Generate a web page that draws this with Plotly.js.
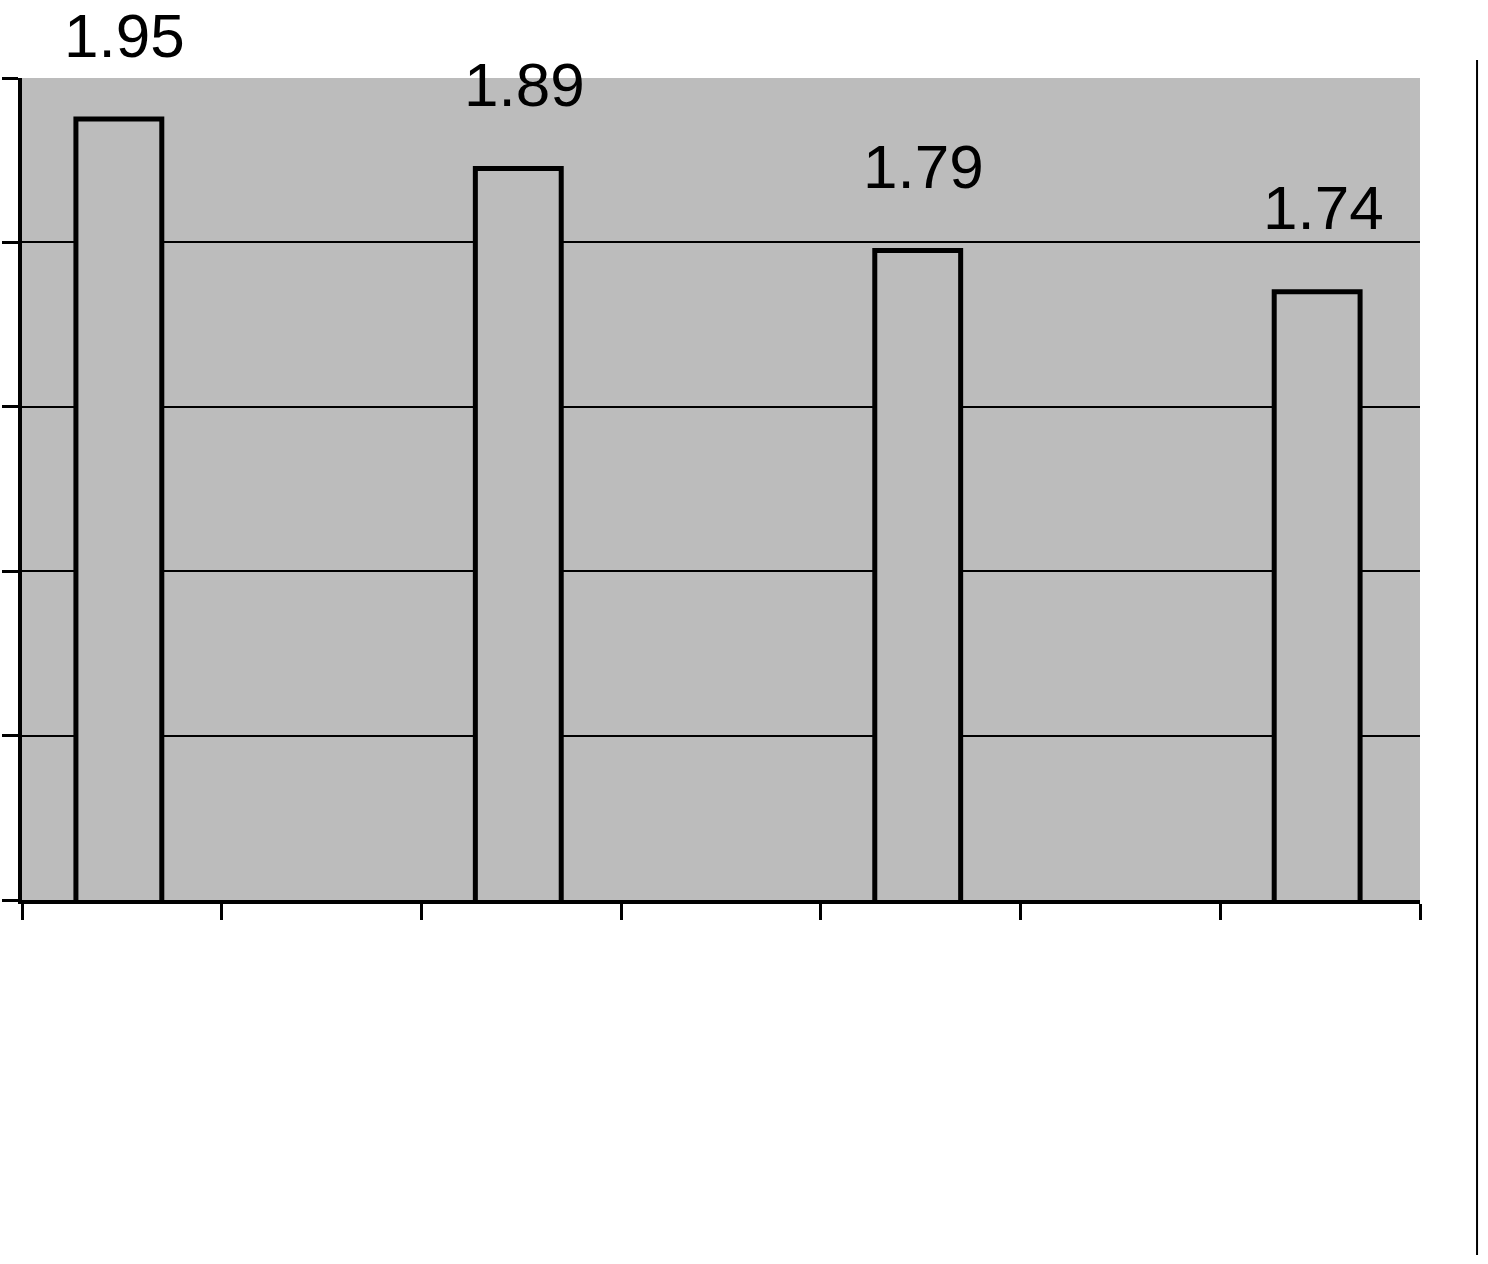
<!DOCTYPE html>
<html>
<head>
<meta charset="utf-8">
<script src="https://cdn.plot.ly/plotly-3.0.1.min.js"></script>
<style>
  html, body { margin: 0; padding: 0; background: #fff; }
  #chart { width: 1488px; height: 1264px; }
</style>
</head>
<body>
<div id="chart"></div>
<script>
// 7 category slots, bars only in every other one
const slots = [1, 2, 3, 4, 5, 6, 7];
const values = [1.95, null, 1.89, null, 1.79, null, 1.74];
const labels = ['1.95', '', '1.89', '', '1.79', '', '1.74'];
const yTicks = [1.0, 1.2, 1.4, 1.6, 1.8, 2.0];
const slotEdges = [0.5, 1.5, 2.5, 3.5, 4.5, 5.5, 6.5, 7.5];

const grey = '#bcbcbc';

const trace = {
  type: 'bar',
  x: slots,
  y: values,
  width: 0.43,
  offset: -0.23,
  marker: {
    color: grey,
    line: { color: '#000', width: 5 }
  },
  hoverinfo: 'none'
};

const annotations = slots
  .map((s, i) => ({ s, v: values[i], t: labels[i] }))
  .filter(d => d.v !== null)
  .map(d => ({
    x: d.s,
    y: d.v,
    xref: 'x',
    yref: 'y',
    text: d.t,
    showarrow: false,
    yanchor: 'middle',
    yshift: 84,
    xshift: 3,
    font: { family: 'Liberation Sans, Arial, sans-serif', size: 62, color: '#000' }
  }));

const layout = {
  width: 1488,
  height: 1264,
  margin: { l: 22, r: 68, t: 78, b: 364, pad: 0 },
  paper_bgcolor: '#fff',
  plot_bgcolor: grey,
  showlegend: false,
  xaxis: {
    range: [0.5, 7.5],
    tickvals: slotEdges,
    showticklabels: false,
    ticks: 'outside',
    ticklen: 16,
    tickwidth: 3,
    tickcolor: '#000',
    showgrid: false,
    zeroline: false,
    showline: true,
    linecolor: '#000',
    linewidth: 4,
    fixedrange: true
  },
  yaxis: {
    range: [1, 2],
    tickvals: yTicks,
    showticklabels: false,
    ticks: 'outside',
    ticklen: 16,
    tickwidth: 3,
    tickcolor: '#000',
    showgrid: true,
    gridcolor: '#000',
    gridwidth: 2,
    zeroline: false,
    showline: true,
    linecolor: '#000',
    linewidth: 4,
    fixedrange: true
  },
  annotations: annotations,
  shapes: [
    {
      type: 'line',
      xref: 'paper', yref: 'paper',
      x0: 1.0408, x1: 1.0408,
      y0: -0.432, y1: 1.022,
      line: { color: '#000', width: 2 }
    }
  ]
};

Plotly.newPlot('chart', [trace], layout, { displayModeBar: false, staticPlot: true });
</script>
</body>
</html>
